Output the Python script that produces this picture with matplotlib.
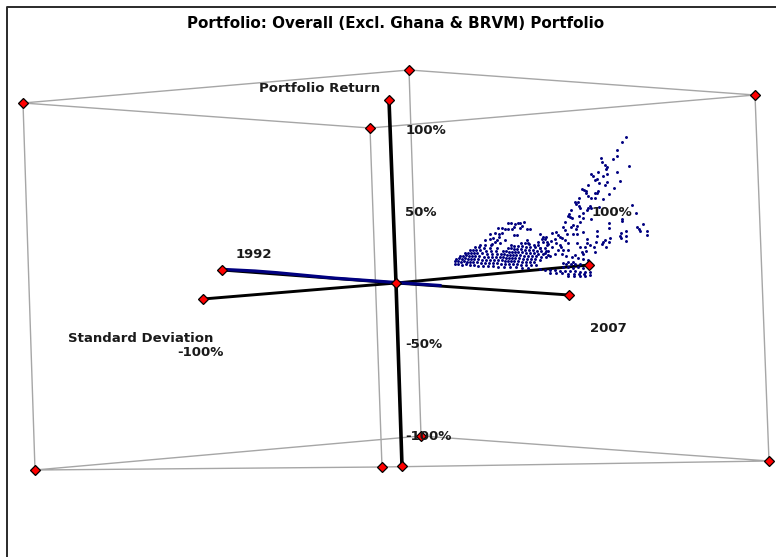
import matplotlib
matplotlib.use("Agg")
import matplotlib.pyplot as plt

WIDTH, HEIGHT = 776, 557

title = "Portfolio: Overall (Excl. Ghana & BRVM) Portfolio"

# projected positions, in picture pixels
box_top = [(23, 103), (409, 70), (755, 95), (370, 128)]
box_bottom = [(35, 470), (421, 436), (769, 461), (382, 467)]

axis_return = [(389, 100), (396, 283), (402, 466)]
axis_year = [(222, 270), (396, 283), (569, 295)]
axis_sd = [(203, 299), (396, 283), (589, 265)]

band_early = [(225, 269.5), (255, 271), (277, 272.7), (333, 278), (396, 282.5), (440, 285.5)]

wedge = [
    (455, 264), (458, 264), (462, 264.5), (466, 264), (470, 265), (474, 265), (478, 265.5), (483, 265.5),
    (488, 266), (493, 266), (498, 266.5), (504, 266.5), (510, 267), (516, 267), (522, 267.5), (528, 267.5),
    (455, 261), (458, 261), (461, 261.5), (464, 261), (467, 261.5), (470, 262), (473, 262), (477, 262),
    (481, 262.5), (485, 262.5), (489, 263), (493, 263), (497, 263), (501, 263.5), (505, 263.5), (509, 264),
    (513, 264), (517, 264), (521, 264.5), (526, 264.5), (531, 265), (536, 265),
    (456, 258.5), (459, 258), (462, 258.5), (465, 258), (468, 258.5), (471, 259), (474, 259), (478, 259),
    (482, 259.5), (486, 259.5), (490, 260), (494, 260), (498, 260), (502, 260), (505, 260.5), (508, 260.5),
    (511, 261), (514, 261), (518, 261), (522, 261.5), (526, 261.5), (530, 262), (534, 262),
    (460, 255.5), (463, 255.5), (466, 255), (469, 255.5), (472, 256), (475, 256), (479, 256), (484, 256.5),
    (488, 256.5), (492, 257), (496, 257), (500, 257), (503, 257), (506, 257.5), (509, 257.5), (512, 258),
    (515, 258), (519, 258), (523, 258.5), (527, 258.5), (531, 259), (535, 259), (540, 259.5),
    (465, 252.5), (468, 252.5), (471, 252.5), (474, 253), (477, 253), (482, 253), (487, 253.5), (492, 254),
    (497, 254), (501, 254), (504, 254), (507, 254.5), (510, 254.5), (513, 255), (516, 255), (520, 255),
    (524, 255.5), (528, 255.5), (532, 256), (536, 256), (541, 256.5), (546, 257),
    (470, 249.5), (473, 250), (476, 250), (480, 250), (486, 250.5), (491, 250.5), (496, 251), (503, 251),
    (506, 251), (509, 251.5), (512, 251.5), (515, 252), (518, 252), (522, 252), (526, 252.5), (530, 253),
    (534, 253), (538, 253.5), (543, 254), (548, 254.5),
    (475, 247), (479, 247), (484, 247.5), (490, 247.5), (497, 248), (508, 248), (511, 248), (514, 248.5),
    (517, 249), (521, 249), (525, 249.5), (529, 250), (533, 250), (537, 250.5), (541, 251), (546, 251),
    (480, 244.5), (485, 244.5), (491, 244.5), (511, 245), (514, 245.5), (518, 246), (522, 246), (526, 246.5),
    (530, 247), (535, 247), (540, 247.5), (545, 248),
    (521, 243), (525, 243), (529, 244), (534, 244.5), (538, 245), (547, 245),
]

ridge = [
    (524.3, 221.7), (520, 222.7), (517.7, 223.3), (515, 224), (508.3, 223.3), (511, 223.3), (521.7, 226),
    (520, 227.7), (498.3, 228.3), (501.7, 228.3), (505, 228.7), (508.3, 228.7), (511.7, 229.3), (514, 227.3),
    (527.3, 229.3), (530, 229.3), (495, 233.3), (499.3, 234), (501.7, 232.7), (490, 234), (514, 235),
    (516.7, 235), (499.3, 236.7), (493.3, 238.3), (490, 239.3), (496.7, 240), (505, 240), (485, 240),
    (495, 241.7), (500, 242.7), (491.7, 244), (526.7, 240), (528.3, 242.7), (540, 234), (543.3, 236.7),
    (546, 236.7), (541.7, 239), (545, 239), (538.3, 241.7), (543.3, 241.7), (546.7, 241.7),
]

slope = [
    (556, 231.7), (558, 235), (552, 233), (555, 239), (560, 237), (565, 240), (551, 241), (548, 244),
    (556, 243), (552, 247), (560, 245), (558, 250), (548, 251), (555, 254), (550, 256), (562, 254),
    (566, 256), (545, 253), (540, 248), (561.7, 238.3), (563.3, 250), (568.3, 250), (561, 246.7),
    (563.3, 226.7), (565, 221.7), (570, 217.3), (565, 230), (567.3, 234), (572.7, 234), (576.7, 234),
    (573.3, 225.3), (571, 226.7), (576.7, 226), (576, 229.3), (583.3, 232), (568.3, 243.3), (576.7, 243.3),
    (585, 246.7), (586, 250.7), (580, 246.7), (581.7, 251.7), (583.3, 254), (575, 255), (571.7, 256.7),
    (578.3, 258.3), (583.3, 259.3), (588.3, 260), (573.3, 261.7), (568.3, 261.7), (563.3, 262.7),
    (587.3, 238.7), (587.3, 243.3), (590, 245.3), (594.3, 247.3), (595, 252.3), (596, 241.7),
]

strip = [
    (540, 269), (545, 269.5), (550, 270), (555, 270), (560, 270.5), (565, 271), (570, 271), (575, 271),
    (580, 271.5), (585, 272), (590, 272), (550, 272.5), (556, 273), (562, 273), (568, 273.5), (574, 274),
    (579, 274), (584, 274), (568, 276), (574, 276), (580, 276), (585, 276), (590, 275), (563, 267),
    (568, 267), (573, 267.5), (578, 267), (583, 267.5), (575, 264), (580, 264), (571, 264), (566, 264),
]

peak = [
    (626.3, 137.3), (622.3, 142), (617, 150), (617, 155.7), (613, 159), (600.7, 158), (602.3, 161.7),
    (605, 165), (607.3, 167), (606, 168.7), (629.3, 166), (617, 171.7), (598, 171.7), (591.3, 173.7),
    (592.7, 176.3), (607.3, 174), (603.3, 176.3), (596.7, 178.7), (595.3, 180), (599.3, 182.7),
    (607.3, 181.7), (619.7, 181), (605, 185.3), (588.3, 185.3), (614.3, 187.7), (581.7, 188.7), (584.3, 190),
    (585.7, 191), (585.7, 193.3), (598, 191), (597.3, 193), (595.3, 193.3), (609, 194.3), (588.3, 195.7),
    (579, 198), (591.3, 198), (595.3, 198), (603.3, 199), (575, 202.3), (577.7, 202.3), (576.3, 203.7),
    (579, 206), (580.3, 208.3), (589.7, 206), (587.7, 208.3), (591, 208.3), (599.3, 207), (632, 205),
    (570.7, 210.3), (569.3, 214), (583, 212.7), (587, 210.3), (636, 212.7), (568, 216.3), (572, 218.3),
    (579, 216.3), (583, 218.3), (591.3, 219.3), (622.3, 219.3), (580, 221.7),
]

tail = [
    (609, 222.7), (609, 228.3), (596.7, 230.7), (596.7, 236), (622, 220.7), (642.7, 224), (637.3, 227.3),
    (638.7, 229.3), (640, 231), (646.7, 230.7), (647.3, 235), (626.3, 230.7), (621.3, 233.3), (620, 236),
    (621.3, 238), (625.7, 236), (626.3, 241), (610.3, 237.7), (605, 240), (603.3, 242), (602, 243.7),
    (609, 242), (606.3, 246.7),
]

labels = [
    ("Portfolio Return", 320, 88),
    ("100%", 426, 130),
    ("50%", 421, 212),
    ("100%", 612, 213),
    ("1992", 254, 254),
    ("2007", 608, 328),
    ("Standard Deviation", 141, 338),
    ("-100%", 200, 353),
    ("-50%", 424, 345),
    ("-100%", 428, 437),
]

plt.rcParams["font.family"] = ["DejaVu Sans"]

fig = plt.figure(figsize=(WIDTH / 100, HEIGHT / 100), dpi=100)
ax = fig.add_axes([0, 0, 1, 1])
ax.set_xlim(0, WIDTH)
ax.set_ylim(HEIGHT, 0)
ax.axis("off")

# outer frame only shows on the left and top
ax.plot([6.5, 6.5, WIDTH], [HEIGHT, 6.5, 6.5], color="#2a2a2a", lw=1.4, zorder=1)

grey = "#a6a6a6"
for ring in (box_top, box_bottom):
    xs, ys = zip(*(ring + ring[:1]))
    ax.plot(xs, ys, color=grey, lw=1.0, zorder=2)
for top, bottom in zip(box_top, box_bottom):
    ax.plot([top[0], bottom[0]], [top[1], bottom[1]], color=grey, lw=1.0, zorder=2)

for line, width in ((axis_year, 2.1), (axis_sd, 2.1), (axis_return, 2.6)):
    xs, ys = zip(*line)
    ax.plot(xs, ys, color="black", lw=width, zorder=3, solid_capstyle="butt")

xs, ys = zip(*band_early)
ax.plot(xs, ys, color="#000080", lw=2.3, zorder=4)

for cloud in (wedge, ridge, slope, strip, peak, tail):
    xs, ys = zip(*cloud)
    ax.scatter(xs, ys, s=4.5, color="#000080", linewidths=0, zorder=4)

corners = box_top + box_bottom + [axis_return[0], axis_return[2], axis_year[0], axis_year[2],
                                  axis_sd[0], axis_sd[2], axis_sd[1]]
xs, ys = zip(*corners)
ax.plot(xs, ys, ls="none", marker="D", ms=4.6, mfc="#ff0000", mec="black", mew=0.9, zorder=5)

for text, x, y in labels:
    ax.text(x, y, text, ha="center", va="center", fontsize=9.5, fontweight="bold", color="#1a1a1a", zorder=6)
ax.text(396, 24, title, ha="center", va="center", fontsize=10.9, fontweight="bold", color="black", zorder=6)

fig.savefig("out.png", dpi=100)
plt.close(fig)
